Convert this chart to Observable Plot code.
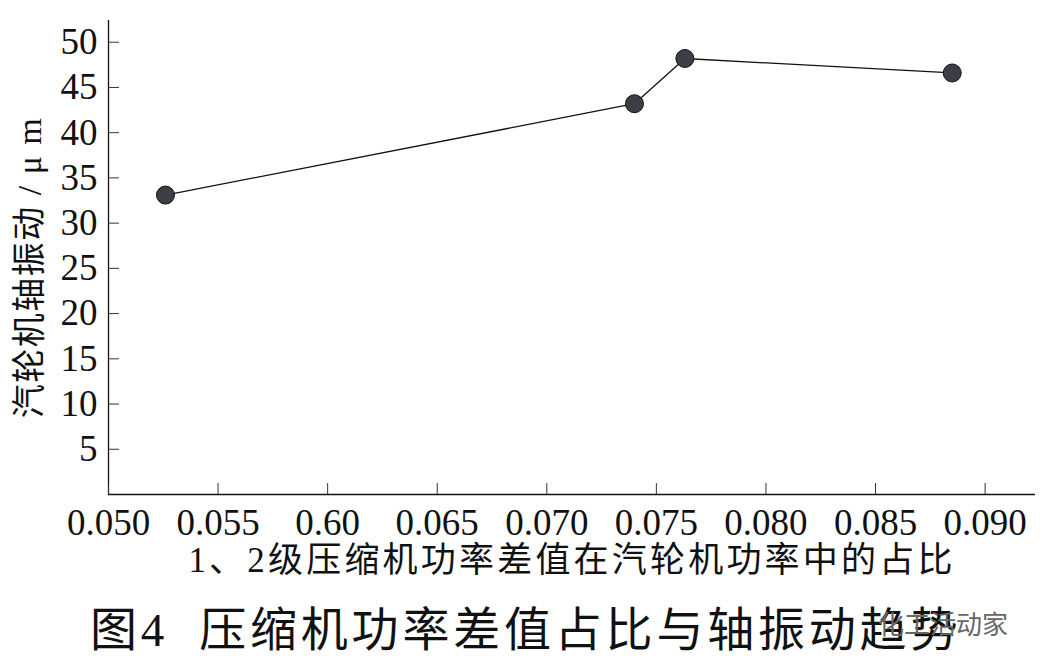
<!DOCTYPE html>
<html><head><meta charset="utf-8">
<script src="https://cdn.jsdelivr.net/npm/d3@7"></script>
<script src="https://cdn.jsdelivr.net/npm/@observablehq/plot@0.6"></script>
<style>
body{margin:0;background:#fff;width:1053px;height:669px;overflow:hidden;position:relative;font-family:"Liberation Serif","Noto Sans CJK SC",serif;color:#111;}
#chart{position:absolute;left:0;top:0;}
#title{position:absolute;left:90px;top:601px;font-size:47px;letter-spacing:3.8px;white-space:pre;line-height:58px;}
#tag{position:absolute;left:878px;top:604px;font-family:"Noto Sans CJK SC",sans-serif;font-size:26px;color:#666;}
</style></head>
<body>
<div id="chart"></div>
<div id="title">图4  压缩机功率差值占比与轴振动趋势</div>
<div id="tag">化工活动家</div>
<script>
const ratio = [0.0526, 0.0740, 0.0763, 0.0885];
const vibration = [33.1, 43.2, 48.2, 46.6];
const xTicks = [0.050, 0.055, 0.060, 0.065, 0.070, 0.075, 0.080, 0.085, 0.090];
const xTickLabels = ["0.050", "0.055", "0.60", "0.065", "0.070", "0.075", "0.080", "0.085", "0.090"];
const yTicks = [5, 10, 15, 20, 25, 30, 35, 40, 45, 50];
const xLabel = "1、2级压缩机功率差值在汽轮机功率中的占比";
const yLabel = "汽轮机轴振动 / μ m";

const data = ratio.map((x, i) => ({x, y: vibration[i]}));
const labelMap = new Map(xTicks.map((t, i) => [t.toFixed(3), xTickLabels[i]]));
const font = '"Liberation Serif","Noto Sans CJK SC",serif';

const chart = Plot.plot({
  width: 1053, height: 595,
  marginLeft: 108, marginRight: 18, marginTop: 20, marginBottom: 101,
  x: {domain: [0.050, 0.0923]},
  y: {domain: [0, 52.4]},
  style: {fontSize: "37px", fontFamily: font, color: "#111", background: "transparent"},
  marks: [
    Plot.ruleY([0], {stroke: "#111", strokeWidth: 1.3}),
    Plot.ruleX([0.050], {stroke: "#111", strokeWidth: 1.3}),
    Plot.axisX({ticks: xTicks, tickSize: 11, dy: -11, tickFormat: () => "", label: null, stroke: "#333"}),
    Plot.axisX({ticks: xTicks, tickSize: 0, tickPadding: 14, tickFormat: d => labelMap.get(d.toFixed(3)), label: null}),
    Plot.axisY({ticks: yTicks, tickSize: 11, dx: 11, tickFormat: () => "", label: null, stroke: "#333"}),
    Plot.axisY({ticks: yTicks, tickSize: 0, tickPadding: 11, label: null}),
    Plot.text([xLabel], {frameAnchor: "bottom", dy: 66, fontSize: 35, lineAnchor: "middle", textAnchor: "middle", className: "xlab"}),
    Plot.text([yLabel], {frameAnchor: "left", rotate: -90, dx: -78, dy: 10, fontSize: 34, lineAnchor: "middle", textAnchor: "middle", className: "ylab"}),
    Plot.line(data, {x: "x", y: "y", stroke: "#111", strokeWidth: 1.3}),
    Plot.dot(data, {x: "x", y: "y", r: 9, fill: "#3a3f45", stroke: "#111", strokeWidth: 1})
  ]
});
d3.select(chart).selectAll(".xlab text").attr("letter-spacing", "3.2px");
d3.select(chart).selectAll(".ylab text").attr("letter-spacing", "1.5px");
document.getElementById("chart").appendChild(chart);
</script>
</body></html>
